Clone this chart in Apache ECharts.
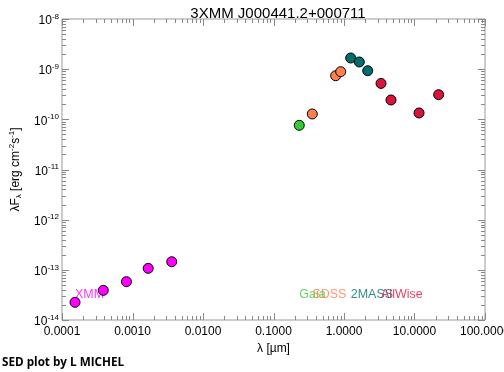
<!DOCTYPE html>
<html>
<head>
<meta charset="utf-8">
<script src="https://cdn.jsdelivr.net/npm/echarts@6/dist/echarts.min.js"></script>
<style>
html,body{margin:0;padding:0;background:#fff;}
#c{width:504px;height:372px;}
</style>
</head>
<body>
<div id="c"></div>
<script>
// ---- data (wavelength in micron, lambda*F_lambda in erg cm^-2 s^-1) ----
const xmmX = [1.53e-4, 3.85e-4, 8.2e-4, 1.67e-3, 3.6e-3];
const xmmY = [2.25e-14, 3.9e-14, 5.8e-14, 1.07e-13, 1.45e-13];
const gaiaX = [0.232];
const gaiaY = [7.6e-11];
const sdssX = [0.355, 0.762, 0.897];
const sdssY = [1.28e-10, 7.4e-10, 8.9e-10];
const tmassX = [1.245, 1.65, 2.17];
const tmassY = [1.67e-9, 1.39e-9, 9.3e-10];
const wiseX = [3.35, 4.64, 11.6, 22.0];
const wiseY = [5.2e-10, 2.43e-10, 1.34e-10, 3.1e-10];
const seriesNames = ['XMM', 'Gaia', 'SDSS', '2MASS', 'AllWise'];
const xTicks = [1e-4, 1e-3, 1e-2, 1e-1, 1, 10, 100];
const yTicks = [1e-14, 1e-13, 1e-12, 1e-11, 1e-10, 1e-9, 1e-8];
const titleText = '3XMM J000441.2+000711';
const footerText = 'SED plot by L MICHEL';

const colors = ['#ff00ff', '#33cc33', '#ff7f4f', '#006e6e', '#dc143c'];
const xs = [xmmX, gaiaX, sdssX, tmassX, wiseX];
const ys = [xmmY, gaiaY, sdssY, tmassY, wiseY];
const labelLevel = 3.15e-14;

const FONT = 'Liberation Sans';
const frame = '#9a9a9a';
const tickColor = '#888888';
const MAJOR_LEN = 7, MINOR_LEN = 4;

const series = [];
seriesNames.forEach((n, i) => {
  series.push({
    type: 'scatter', name: n + '_label', xAxisIndex: 0, yAxisIndex: 0, z: 1,
    symbolSize: 0, silent: true,
    data: [[xs[i][0], labelLevel]],
    label: {
      show: true, position: 'right', distance: 0, align: 'left', verticalAlign: 'middle',
      formatter: n, color: colors[i], fontFamily: FONT, fontSize: 12.5
    }
  });
});
seriesNames.forEach((n, i) => {
  series.push({
    type: 'scatter', name: n, xAxisIndex: 0, yAxisIndex: 0, z: 3,
    symbol: 'circle', symbolSize: 10,
    itemStyle: {color: colors[i], borderColor: '#000', borderWidth: 1, opacity: 1},
    data: xs[i].map((x, j) => [x, ys[i][j]])
  });
});

const chart = echarts.init(document.getElementById('c'), null, {renderer: 'canvas'});
chart.setOption({
  animation: false,
  backgroundColor: '#fff',
  title: {
    text: titleText, left: 273, top: 1, textAlign: 'center',
    textStyle: {fontFamily: FONT, fontSize: 15, fontWeight: 'normal', color: '#000'}
  },
  grid: {left: 62, right: 19, top: 19, bottom: 52, outerBoundsMode: 'none',
         show: true, borderColor: frame, borderWidth: 1},
  xAxis: [{
    type: 'log', logBase: 10, min: xTicks[0], max: xTicks[xTicks.length - 1],
    position: 'bottom',
    axisLine: {show: false},
    axisTick: {show: false},
    axisLabel: {
      show: true, customValues: xTicks, color: '#000', fontFamily: FONT, fontSize: 12, margin: 6,
      formatter: v => (+v).toFixed(4)
    },
    splitLine: {show: false},
    name: 'λ [µm]', nameLocation: 'middle', nameGap: 18,
    nameTextStyle: {color: '#000', fontFamily: FONT, fontSize: 12}
  }],
  yAxis: [{
    type: 'log', logBase: 10, min: yTicks[0], max: yTicks[yTicks.length - 1],
    position: 'left',
    axisLine: {show: false},
    axisTick: {show: false},
    axisLabel: {
      show: true, customValues: yTicks, color: '#000', fontFamily: FONT, fontSize: 12, margin: 3,
      formatter: v => '{b|10}{s|' + Math.round(Math.log10(v)) + '}',
      rich: {
        b: {fontFamily: FONT, fontSize: 12, color: '#000', padding: [4, 0, 0, 0]},
        s: {fontFamily: FONT, fontSize: 8, color: '#000', padding: [0, 0, 5, 0]}
      }
    },
    splitLine: {show: false},
    name: '{a|λF}{sub|λ}{a| [erg cm}{sup|-2}{a|s}{sup|-1}{a|]}',
    nameLocation: 'middle', nameGap: 30, nameRotate: 90,
    nameTextStyle: {
      color: '#000', fontFamily: FONT, fontSize: 12,
      rich: {
        a: {fontFamily: FONT, fontSize: 12, color: '#000'},
        sub: {fontFamily: FONT, fontSize: 8, color: '#000', verticalAlign: 'bottom'},
        sup: {fontFamily: FONT, fontSize: 8, color: '#000', padding: [0, 0, 7, 0]}
      }
    }
  }],
  series: series
});

// footer text and tick marks on all four sides, placed through the chart's own axis scales
const elements = [{
  type: 'text', left: 2, top: 357,
  style: {text: footerText, fontFamily: 'Open Sans', fontWeight: 'bold', fontSize: 11.7, fill: '#000'}
}];
const x0 = xTicks[0], x1 = xTicks[xTicks.length - 1];
const y0 = yTicks[0], y1 = yTicks[yTicks.length - 1];
const toPx = (xv, yv) => chart.convertToPixel({gridIndex: 0}, [xv, yv]);
const gLeft = toPx(x0, y0)[0], gRight = toPx(x1, y0)[0];
const gBottom = toPx(x0, y0)[1], gTop = toPx(x0, y1)[1];
function mk(a, b, c, d) {
  return {type: 'line', shape: {x1: a, y1: b, x2: c, y2: d}, style: {stroke: tickColor, lineWidth: 1}};
}
function xTick(v, len) {
  const x = Math.round(toPx(v, y0)[0]) + 0.5;
  elements.push(mk(x, gBottom, x, gBottom - len));
  elements.push(mk(x, gTop, x, gTop + len));
}
function yTick(v, len) {
  const y = Math.round(toPx(x0, v)[1]) + 0.5;
  elements.push(mk(gLeft, y, gLeft + len, y));
  elements.push(mk(gRight, y, gRight - len, y));
}
xTicks.forEach((v, i) => {
  xTick(v, MAJOR_LEN);
  if (i < xTicks.length - 1) for (let k = 2; k <= 9; k++) xTick(k * v, MINOR_LEN);
});
yTicks.forEach((v, i) => {
  yTick(v, MAJOR_LEN);
  if (i < yTicks.length - 1) for (let k = 2; k <= 9; k++) yTick(k * v, MINOR_LEN);
});
chart.setOption({graphic: elements});
</script>
</body>
</html>
